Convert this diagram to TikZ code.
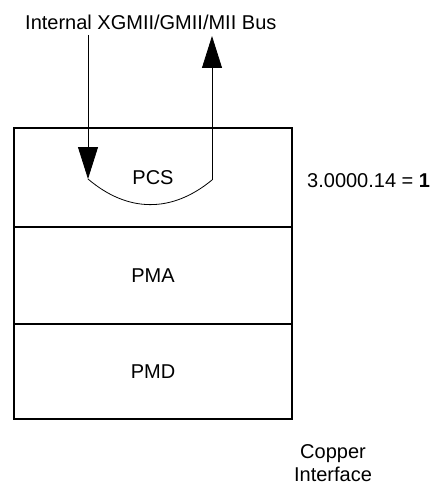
\documentclass[tikz,border=0pt]{standalone}
\usepackage{fontspec}
\setmainfont{Liberation Sans}
\usetikzlibrary{arrows.meta,positioning}
\tikzset{
  layer/.style={draw, line width=2.6pt, minimum width=278pt, inner sep=0pt},
  bus/.style={line width=0.8pt, -{Triangle[length=32pt,width=20pt]}},
  lbl/.style={font=\fontsize{20}{23}\selectfont, inner sep=0pt}
}
\begin{document}
\begin{tikzpicture}[x=1pt, y=1pt]
\useasboundingbox (0,0) rectangle (432,-487);
% layer stack
\node[layer, lbl, minimum height=99pt] (pcs) at (153,-177.5) {PCS};
\node[layer, lbl, minimum height=97pt] (pma) at (153,-275.5) {PMA};
\node[layer, lbl, minimum height=95pt] (pmd) at (153,-371.5) {PMD};

% internal bus, down into PCS and back up
\node[lbl, anchor=west] (busname) at (25,-22) {Internal XGMII/GMII/MII Bus};
\coordinate (intop) at (88,-35);
\coordinate (inend) at (88,-179);
\coordinate (outstart) at (212,-180);
\coordinate (outend) at (212,-36);
\draw[bus] (intop) -- (inend);
\draw[line width=0.8pt] (inend) .. controls (128,-213) and (172,-213) .. (outstart);
\draw[bus] (outstart) -- (outend);

% register bit and medium
\node[lbl, anchor=west] (regbit) at (307,-181) {3.0000.14 = \textbf{1}};
\node[lbl, align=center] (copper) at (333,-463) {Copper\\Interface};
\end{tikzpicture}
\end{document}
